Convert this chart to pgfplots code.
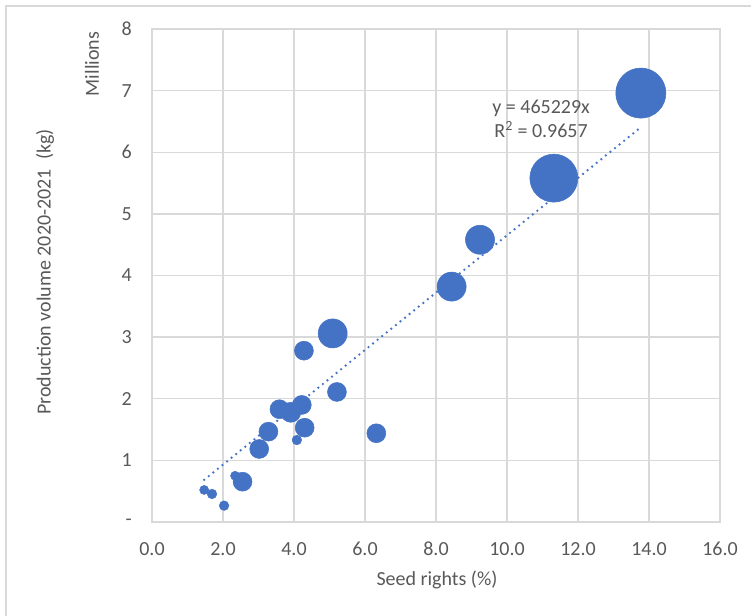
\documentclass[border=0pt]{standalone}
\usepackage{fontspec}
\setmainfont{Carlito}
\usepackage{pgfplots}
\pgfplotsset{compat=1.18}

\definecolor{bub}{HTML}{4472C4}
\definecolor{gridc}{HTML}{D9D9D9}
\definecolor{axc}{HTML}{BFBFBF}
\definecolor{txt}{HTML}{595959}
\newcommand\lbl{\fontsize{15}{18}\selectfont}

\begin{document}
\begin{tikzpicture}
% chart area border (left and top edges visible)
\draw[gridc, line width=1pt] (4.5pt,0pt) -- (4.5pt,457.5pt) -- (563.25pt,457.5pt);

\begin{axis}[
    at={(114pt,70.5pt)}, anchor=south west,
    scale only axis, width=426pt, height=369.75pt,
    xmin=0, xmax=16, ymin=0, ymax=8,
    xtick={0,2,...,16},
    xticklabels={0.0,2.0,4.0,6.0,8.0,10.0,12.0,14.0,16.0},
    ytick={0,1,...,8},
    yticklabels={{-\hspace{9pt}},1,2,3,4,5,6,7,8},
    grid=major,
    major grid style={draw=gridc, line width=1pt},
    axis line style={draw=gridc, line width=1pt},
    major tick length=0pt,
    xticklabel style={font=\lbl, text=txt, anchor=center, inner sep=0pt, yshift=-20pt},
    yticklabel style={font=\lbl, text=txt, anchor=east, inner sep=0pt, xshift=-15pt},
    clip=false,
]
% bubbles: x = seed rights (%), y = production (millions kg), r = radius (pt)
\addplot[scatter, only marks, mark=*,
    scatter/use mapped color={draw=bub, fill=bub},
    visualization depends on={\thisrow{r} \as \rad},
    scatter/@pre marker code/.append style={/tikz/mark size=\rad pt}]
  table {
x     y     r
1.47  0.52  3.4
1.69  0.455 3.6
2.03  0.265 3.6
2.34  0.75  3.4
2.55  0.654 7.1
3.02  1.185 7.1
3.28  1.466 7.1
3.59  1.83  7.1
3.91  1.78  7.5
4.22  1.90  7.1
4.08  1.33  3.6
4.30  1.53  7.1
4.28  2.78  7.1
5.09  3.06  10.9
5.21  2.11  7.1
6.32  1.44  7.1
8.44  3.82  10.9
9.24  4.58  10.9
11.32 5.58  18.0
13.77 6.96  18.8
};
% linear trendline through origin, y = 0.465229 x (millions)
\addplot[bub, line width=2pt, line cap=round, dash pattern=on 0pt off 4.4pt]
  coordinates {(1.47,0.684) (13.77,6.406)};
\node[font=\lbl, text=txt, align=center] at (axis cs:10.96,6.54)
  {y = 465229x\\R\textsuperscript{2} = 0.9657};
\end{axis}

\node[font=\lbl, text=txt, rotate=90] at (69pt,414pt) {Millions};
\node[font=\lbl, text=txt, rotate=90] at (33.75pt,258pt) {Production volume 2020-2021\ \ (kg)};
\node[font=\lbl, text=txt] at (327.75pt,27pt) {Seed rights (\%)};

\pgfresetboundingbox
\path (0pt,0pt) rectangle (563.25pt,462pt);
\end{tikzpicture}
\end{document}
